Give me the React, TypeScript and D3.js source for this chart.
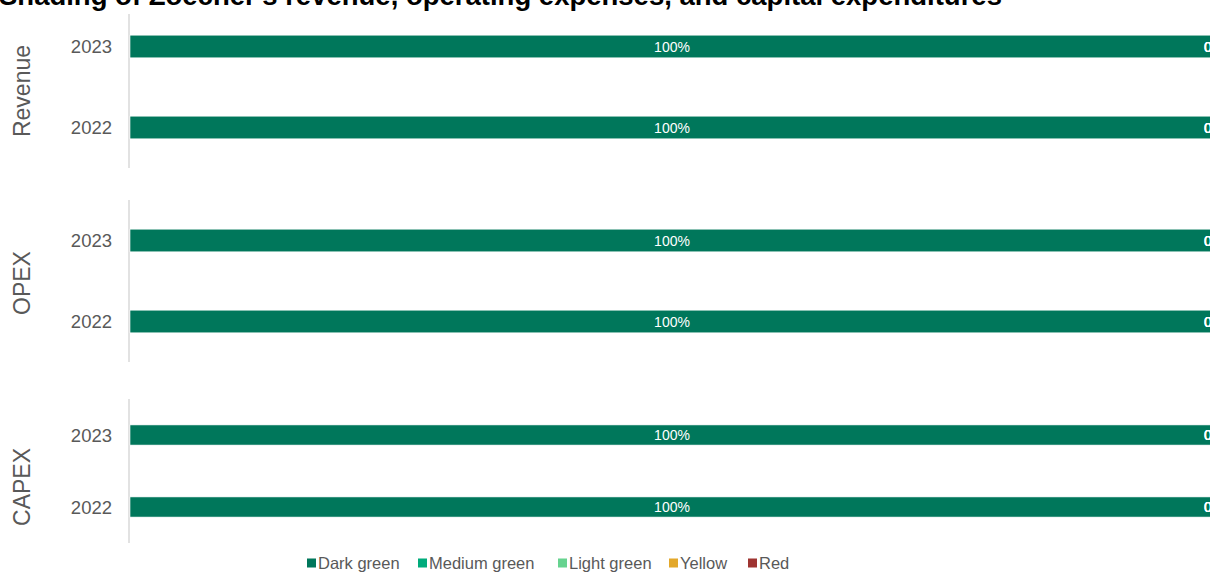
import { useMemo } from "react";
import * as d3 from "d3";

// ---- data ----
const groups = ["Revenue", "OPEX", "CAPEX"];
const years = ["2023", "2022"];
const seriesNames = ["Dark green", "Medium green", "Light green", "Yellow", "Red"];
const seriesColors = ["#00775B", "#00AB7B", "#66D38F", "#E3A82B", "#9E3431"];
// share per row: Revenue 2023, Revenue 2022, OPEX 2023, OPEX 2022, CAPEX 2023, CAPEX 2022
const darkGreen = [1, 1, 1, 1, 1, 1];
const mediumGreen = [0, 0, 0, 0, 0, 0];
const lightGreen = [0, 0, 0, 0, 0, 0];
const yellow = [0, 0, 0, 0, 0, 0];
const red = [0, 0, 0, 0, 0, 0];
const title = "Shading of Zoecher's revenue, operating expenses, and capital expenditures";

// ---- layout ----
const W = 1210;
const H = 572;
const plotLeft = 130;
const plotRight = 1214; // chart runs past the picture edge
const panels: [number, number][] = [
  [6, 168],
  [200, 362],
  [399, 543],
];
const groupLabelShift = [4, 2, 16]; // label offset from panel middle
const legendX = [307, 418, 558, 669, 748];
const font = "Arial, 'Liberation Sans', sans-serif";
const grey = "#595959";

type Row = { group: string; year: string; [k: string]: string | number };

export default function App() {
  const rows: Row[] = useMemo(() => {
    const cols = [darkGreen, mediumGreen, lightGreen, yellow, red];
    const out: Row[] = [];
    groups.forEach((g, gi) =>
      years.forEach((y, yi) => {
        const i = gi * years.length + yi;
        const r: Row = { group: g, year: y };
        seriesNames.forEach((s, si) => (r[s] = cols[si][i]));
        out.push(r);
      })
    );
    return out;
  }, []);

  const stacked = useMemo(
    () => d3.stack<Row>().keys(seriesNames).value((d, k) => d[k] as number)(rows),
    [rows]
  );

  const x = d3.scaleLinear().domain([0, 1]).range([plotLeft, plotRight]);
  const yScales = panels.map((p) =>
    d3.scaleBand<string>().domain(years).range(p).paddingInner(0.72).paddingOuter(0.36)
  );
  const fmt = d3.format(".0%");

  return (
    <svg
      width={W}
      height={H}
      style={{ position: "absolute", left: 0, top: 0, background: "#fff" }}
      fontFamily={font}
    >
      <text x={-1} y={5} fontSize={27.5} fontWeight="bold" fill="#000">
        {title}
      </text>

      {groups.map((g, gi) => {
        const [y0, y1] = panels[gi];
        const yc = (y0 + y1) / 2 + groupLabelShift[gi];
        return (
          <g key={g}>
            <line x1={plotLeft - 1} x2={plotLeft - 1} y1={y0 + (gi === 0 ? 8 : 0)} y2={y1} stroke="#D9D9D9" strokeWidth={1.5} />
            <text
              transform={`translate(22,${yc}) rotate(-90)`}
              textAnchor="middle"
              dominantBaseline="central"
              fontSize={23}
              fill={grey}
            >
              {g}
            </text>
            {years.map((yr) => (
              <text
                key={yr}
                x={112}
                y={yScales[gi](yr)! + yScales[gi].bandwidth() / 2}
                textAnchor="end"
                dominantBaseline="central"
                fontSize={18.5}
                fill={grey}
              >
                {yr}
              </text>
            ))}
          </g>
        );
      })}

      {stacked.map((layer, si) => (
        <g key={layer.key} fill={seriesColors[si]}>
          {layer.map((d, i) => {
            const row = rows[i];
            const gi = groups.indexOf(row.group);
            const ys = yScales[gi];
            return (
              <rect
                key={i}
                x={x(d[0])}
                y={ys(row.year)!}
                width={Math.max(0, x(d[1]) - x(d[0]))}
                height={ys.bandwidth()}
                stroke="#fff"
                strokeWidth={0.6}
              />
            );
          })}
        </g>
      ))}

      {stacked.map((layer) => (
        <g key={layer.key + "-lab"}>
          {layer.map((d, i) => {
            const row = rows[i];
            const gi = groups.indexOf(row.group);
            const ys = yScales[gi];
            return (
              <text
                key={i}
                x={(x(d[0]) + x(d[1])) / 2}
                y={ys(row.year)! + ys.bandwidth() / 2}
                textAnchor="middle"
                dominantBaseline="central"
                fontSize={14}
                fill="#fff"
              >
                {fmt(d[1] - d[0])}
              </text>
            );
          })}
        </g>
      ))}

      {seriesNames.map((s, si) => (
        <g key={s} transform={`translate(${legendX[si]},563)`}>
          <rect x={0} y={-4.5} width={9} height={9} fill={seriesColors[si]} />
          <text x={11} y={0} dominantBaseline="central" fontSize={16.5} fill={grey}>
            {s}
          </text>
        </g>
      ))}
    </svg>
  );
}
